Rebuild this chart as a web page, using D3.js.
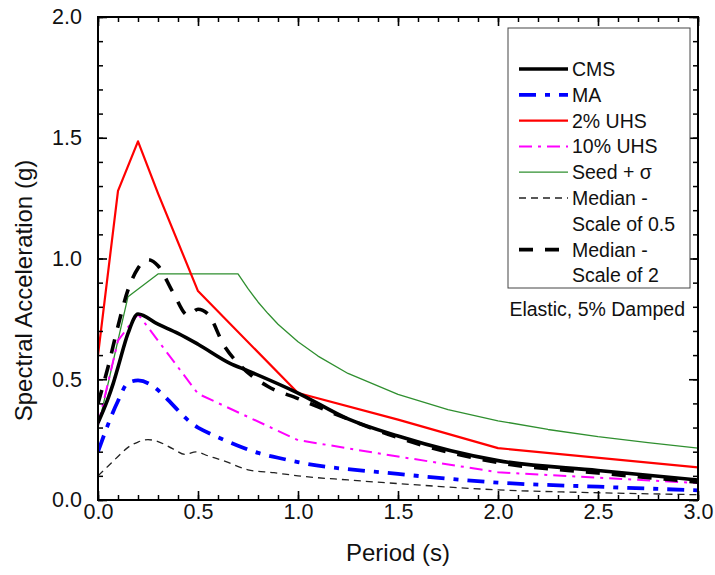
<!DOCTYPE html>
<html>
<head>
<meta charset="utf-8">
<script src="https://cdn.jsdelivr.net/npm/d3@7/dist/d3.min.js"></script>
<style>
  html, body { margin: 0; padding: 0; background: #fff; }
  svg { display: block; font-family: "Liberation Sans", Arial, sans-serif; }
</style>
</head>
<body>
<svg id="chart" width="715" height="575"></svg>
<script>
// Response spectra: period (s) vs spectral acceleration (g)
const cmsT   = [0, 0.05, 0.075, 0.1, 0.15, 0.2, 0.3, 0.4, 0.5, 0.66, 0.75, 1.0, 1.25, 1.5, 2.0, 2.5, 3.0];
const cmsSa  = [0.32, 0.42, 0.48, 0.55, 0.69, 0.77, 0.728, 0.69, 0.645, 0.566, 0.535, 0.443, 0.336, 0.265, 0.163, 0.122, 0.083];

const maT    = [0, 0.1, 0.15, 0.2, 0.5, 0.6, 0.7, 0.8, 0.9, 1.0, 1.5, 2.0, 2.5, 3.0];
const maSa   = [0.2, 0.41, 0.485, 0.495, 0.30, 0.26, 0.225, 0.195, 0.175, 0.157, 0.108, 0.072, 0.055, 0.04];

const uhsT   = [0, 0.1, 0.2, 0.3, 0.5, 1.0, 1.5, 2.0, 3.0];
const uhs2Sa = [0.6, 1.28, 1.485, 1.27, 0.865, 0.443, 0.333, 0.215, 0.135];
const uhs10Sa = [0.31, 0.66, 0.77, 0.66, 0.44, 0.248, 0.18, 0.115, 0.07];

const seedT  = [0, 0.15, 0.3, 0.7, 0.75, 0.8, 0.85, 0.9, 1.0, 1.1, 1.25, 1.5, 1.75, 2.0, 2.25, 2.5, 2.75, 3.0];
const seedSa = [0.3, 0.842, 0.936, 0.936, 0.875, 0.82, 0.772, 0.728, 0.655, 0.596, 0.524, 0.437, 0.374, 0.328, 0.292, 0.262, 0.238, 0.215];

const halfT  = [0, 0.05, 0.1, 0.15, 0.2, 0.25, 0.3, 0.375, 0.435, 0.49, 0.55, 0.64, 0.75, 0.88, 1.0, 1.25, 1.5, 2.0, 2.5, 3.0];
const halfSa = [0.1, 0.14, 0.18, 0.218, 0.24, 0.25, 0.242, 0.212, 0.189, 0.199, 0.183, 0.159, 0.125, 0.113, 0.1, 0.083, 0.068, 0.042, 0.03, 0.022];

const twoT   = [0, 0.05, 0.1, 0.15, 0.2, 0.25, 0.3, 0.375, 0.45, 0.5, 0.55, 0.63, 0.72, 0.85, 1.0, 1.25, 1.5, 2.0, 2.5, 3.0];
const twoSa  = [0.40, 0.55, 0.72, 0.87, 0.96, 0.995, 0.97, 0.86, 0.765, 0.79, 0.77, 0.64, 0.55, 0.47, 0.42, 0.335, 0.258, 0.155, 0.112, 0.074];

const xMajorTicks = [0, 0.5, 1.0, 1.5, 2.0, 2.5, 3.0];
const yMajorTicks = [0, 0.5, 1.0, 1.5, 2.0];
const legendLabels = [["CMS"], ["MA"], ["2% UHS"], ["10% UHS"], ["Seed + \u03c3"],
                      ["Median -", "Scale of 0.5"], ["Median -", "Scale of 2"]];
const noteText = "Elastic, 5% Damped";
const xTitle = "Period (s)";
const yTitle = "Spectral Acceleration (g)";

const svg = d3.select("#chart");
const L = 98, R = 698, T = 17, B = 500;
const x = d3.scaleLinear().domain([0, 3]).range([L, R]);
const y = d3.scaleLinear().domain([0, 2]).range([B, T]);

const zip = (ts, vs) => ts.map((t, i) => [t, vs[i]]);

const series = [
  { pts: zip(cmsT, cmsSa),   color: "#000",    width: 3.6, dash: null,          curve: d3.curveMonotoneX },
  { pts: zip(maT, maSa),     color: "#0000ff", width: 3.8, dash: "17,9,5,9",    curve: d3.curveMonotoneX },
  { pts: zip(uhsT, uhs2Sa),  color: "#ff0000", width: 2.2, dash: null,          curve: d3.curveLinear },
  { pts: zip(uhsT, uhs10Sa), color: "#ff00ff", width: 2.0, dash: "13,6,3,6",    curve: d3.curveLinear },
  { pts: zip(seedT, seedSa), color: "#2f8f2f", width: 1.3, dash: null,          curve: d3.curveLinear },
  { pts: zip(halfT, halfSa), color: "#222",    width: 1.3, dash: "7,5",         curve: d3.curveMonotoneX },
  { pts: zip(twoT, twoSa),   color: "#000",    width: 3.6, dash: "14,12",       curve: d3.curveMonotoneX }
];

svg.append("clipPath").attr("id", "plotClip")
  .append("rect").attr("x", L).attr("y", T).attr("width", R - L).attr("height", B - T);

const plot = svg.append("g").attr("clip-path", "url(#plotClip)");
// thin lines first, heavy black lines on top
const order = [4, 2, 3, 5, 1, 6, 0];
order.forEach(i => {
  const s = series[i];
  const line = d3.line().x(d => x(d[0])).y(d => y(d[1])).curve(s.curve);
  plot.append("path")
    .attr("d", line(s.pts))
    .attr("fill", "none")
    .attr("stroke", s.color)
    .attr("stroke-width", s.width)
    .attr("stroke-dasharray", s.dash)
    .attr("stroke-linejoin", "round");
});

// axes with inward ticks on all four sides
const xMinor = d3.range(0, 3.0001, 0.1).map(v => +v.toFixed(2));
const yMinor = d3.range(0, 2.0001, 0.1).map(v => +v.toFixed(2));

function axisLayer(makeAxis, scale, transform, minor, major, withLabels, pad) {
  const gMin = svg.append("g").attr("transform", transform)
    .call(makeAxis(scale).tickValues(minor).tickSize(-5).tickFormat(""));
  gMin.select(".domain").remove();
  gMin.selectAll("line").attr("stroke", "#000").attr("stroke-width", 1.5);
  const gMaj = svg.append("g").attr("transform", transform)
    .call(makeAxis(scale).tickValues(major).tickSize(-9).tickPadding(pad)
      .tickFormat(withLabels ? d3.format(".1f") : ""));
  gMaj.select(".domain").remove();
  gMaj.selectAll("line").attr("stroke", "#000").attr("stroke-width", 1.6);
  gMaj.selectAll("text").attr("fill", "#111").style("font-size", "21.5px")
    .style("font-family", "'Liberation Sans', Arial, sans-serif");
  return gMaj;
}

const xb = axisLayer(d3.axisBottom, x, `translate(0,${B})`, xMinor, xMajorTicks, true, 14);
xb.selectAll("text").attr("dy", "0.25em");
axisLayer(d3.axisTop, x, `translate(0,${T})`, xMinor, xMajorTicks, false, 14);
axisLayer(d3.axisLeft, y, `translate(${L},0)`, yMinor, yMajorTicks, true, 16);
axisLayer(d3.axisRight, y, `translate(${R},0)`, yMinor, yMajorTicks, false, 14);

svg.append("rect").attr("x", L).attr("y", T).attr("width", R - L).attr("height", B - T)
  .attr("fill", "none").attr("stroke", "#000").attr("stroke-width", 2);

// axis titles
svg.append("text").attr("x", (L + R) / 2).attr("y", 561).attr("text-anchor", "middle")
  .style("font-size", "24px").attr("fill", "#111").text(xTitle);
svg.append("text").attr("transform", `translate(32,${(T + B) / 2 + 32}) rotate(-90)`)
  .attr("text-anchor", "middle").style("font-size", "24px").attr("fill", "#111").text(yTitle);

// legend
const lg = svg.append("g");
lg.append("rect").attr("x", 508).attr("y", 28).attr("width", 182).attr("height", 260)
  .attr("fill", "#fff").attr("stroke", "#444").attr("stroke-width", 1);
const rowH = 25.8;
let row = 0;
legendLabels.forEach((lines, i) => {
  const s = series[i];
  const cy = 69 + rowH * row;
  lg.append("line").attr("x1", 519).attr("x2", 568).attr("y1", cy).attr("y2", cy)
    .attr("stroke", s.color).attr("stroke-width", s.width)
    .attr("stroke-dasharray", s.dash);
  lines.forEach((txt, k) => {
    lg.append("text").attr("x", 572).attr("y", cy + rowH * k).attr("dy", "0.36em")
      .style("font-size", "19.5px").attr("fill", "#111").text(txt);
  });
  row += lines.length;
});

svg.append("text").attr("x", 685).attr("y", 309).attr("dy", "0.36em").attr("text-anchor", "end")
  .style("font-size", "19.5px").attr("fill", "#111").text(noteText);
</script>
</body>
</html>
